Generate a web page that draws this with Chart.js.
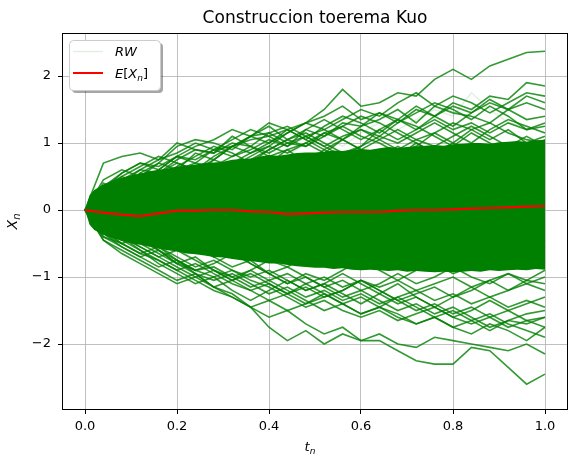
<!DOCTYPE html>
<html>
<head>
<meta charset="utf-8">
<script src="https://cdn.jsdelivr.net/npm/chart.js@4"></script>
<style>
  body { margin: 0; background: #fff; }
  #wrap { width: 568px; height: 454px; }
</style>
</head>
<body>
<div id="wrap"><canvas id="kuo-chart" width="568" height="454"></canvas></div>
<script>
// time grid (t_n) shared by every walk
const T = [0, 0.04, 0.08, 0.12, 0.16, 0.20, 0.24, 0.28, 0.32, 0.36, 0.40, 0.44, 0.48,
           0.52, 0.56, 0.60, 0.64, 0.68, 0.72, 0.76, 0.80, 0.84, 0.88, 0.92, 0.96, 1.0];

// mean of the walks, E[X_n]
const meanX = [0, -0.04, -0.07, -0.09, -0.05, -0.01, -0.01, 0.0, 0.0, -0.02, -0.03, -0.06, -0.05,
               -0.04, -0.03, -0.03, -0.03, -0.01, 0.0, 0.0, 0.01, 0.02, 0.03, 0.04, 0.05, 0.06];

// edges of the dense (solid green) core of the bundle, on a finer grid
const coreT = [0, 0.01, 0.02, 0.04, 0.06, 0.08, 0.10, 0.12, 0.14, 0.16, 0.18, 0.20, 0.22, 0.24, 0.26,
               0.28, 0.30, 0.32, 0.34, 0.36, 0.38, 0.40, 0.42, 0.44, 0.46, 0.48, 0.50, 0.52, 0.54,
               0.56, 0.58, 0.60, 0.62, 0.64, 0.66, 0.68, 0.70, 0.72, 0.74, 0.76, 0.78, 0.80, 0.82,
               0.84, 0.86, 0.88, 0.90, 0.92, 0.94, 0.96, 0.98, 1.0];
const coreUpper = [0, 0.22, 0.3, 0.38, 0.44, 0.48, 0.52, 0.54, 0.58, 0.6, 0.62, 0.65, 0.66, 0.68, 0.7,
                   0.71, 0.72, 0.75, 0.76, 0.77, 0.8, 0.82, 0.81, 0.83, 0.85, 0.86, 0.86, 0.87, 0.89,
                   0.88, 0.9, 0.91, 0.9, 0.92, 0.94, 0.93, 0.94, 0.95, 0.96, 0.97, 0.96, 0.98, 0.99,
                   1.0, 1.0, 0.99, 1.01, 1.02, 1.03, 1.02, 1.04, 1.05];
const coreLower = [0, -0.22, -0.3, -0.37, -0.42, -0.46, -0.5, -0.52, -0.55, -0.58, -0.6, -0.62, -0.65, -0.66, -0.68,
                   -0.7, -0.71, -0.73, -0.75, -0.76, -0.78, -0.8, -0.8, -0.82, -0.84, -0.85, -0.86, -0.86, -0.88,
                   -0.87, -0.89, -0.9, -0.89, -0.9, -0.91, -0.9, -0.92, -0.91, -0.92, -0.93, -0.92, -0.93, -0.92,
                   -0.91, -0.92, -0.9, -0.91, -0.9, -0.89, -0.9, -0.88, -0.89];

// individual walks (RW)
const rwPale = [0, 0.1, 0.25, 0.15, 0.35, 0.5, 0.4, 0.6, 0.55, 0.75, 0.9, 0.8, 1.0, 1.1, 0.95, 1.15, 1.3, 1.2, 1.35, 1.5, 1.4, 1.75, 1.5, 1.3, 1.25, 1.15];
const rwA = [0, 0.35, 0.55, 0.7, 0.65, 0.8, 0.75, 0.9, 0.95, 1.05, 1.1, 1.2, 1.3, 1.5, 1.8, 1.55, 1.6, 1.75, 1.7, 1.95, 2.1, 1.95, 2.15, 2.25, 2.35, 2.37];
const rwB = [0, 0.2, 0.3, 0.5, 0.45, 0.6, 0.7, 0.65, 0.8, 0.9, 1.05, 0.95, 1.2, 1.1, 1.3, 1.25, 1.45, 1.35, 1.55, 1.4, 1.6, 1.5, 1.7, 1.65, 1.9, 1.85];
const rwC = [0, -0.1, 0.15, 0.3, 0.2, 0.45, 0.55, 0.5, 0.7, 0.85, 0.95, 1.15, 1.3, 1.4, 1.55, 1.35, 1.45, 1.3, 1.5, 1.4, 1.25, 1.45, 1.6, 1.5, 1.7, 1.6];
const rwD = [0, 0.7, 0.8, 0.85, 0.75, 1.0, 0.9, 0.85, 1.1, 0.95, 0.8, 0.9, 0.7, 0.85, 0.6, 0.75, 0.9, 0.8, 1.0, 0.85, 0.7, 0.95, 0.8, 1.0, 0.9, 1.05];
const rwE = [0, 0.25, 0.4, 0.6, 0.55, 0.75, 0.9, 0.85, 1.0, 0.95, 1.15, 1.25, 1.1, 1.2, 1.05, 1.25, 1.35, 1.5, 1.3, 1.55, 1.45, 1.4, 1.3, 1.5, 1.35, 1.4];
const rwF = [0, 0.15, 0.05, 0.25, 0.4, 0.3, 0.5, 0.65, 0.55, 0.75, 0.7, 0.9, 1.0, 0.85, 1.05, 1.2, 1.1, 1.3, 1.45, 1.6, 1.5, 1.35, 1.55, 1.4, 1.2, 1.25];
const rwG = [0, 0.45, 0.6, 0.5, 0.7, 0.95, 1.05, 1.0, 0.9, 1.1, 1.15, 1.0, 0.95, 1.15, 1.25, 1.1, 1.0, 0.85, 0.95, 1.15, 1.3, 1.2, 1.05, 1.2, 1.0, 1.1];
const rwH = [0, 0.3, 0.2, 0.45, 0.35, 0.55, 0.5, 0.75, 0.95, 1.1, 1.25, 1.05, 1.15, 1.0, 0.85, 0.95, 1.2, 1.35, 1.25, 1.1, 0.95, 1.15, 1.0, 0.85, 0.95, 0.85];
const rwI = [0, 0.1, 0.3, 0.2, 0.4, 0.5, 0.35, 0.55, 0.6, 0.45, 0.65, 0.8, 0.7, 0.9, 0.75, 0.6, 0.8, 0.7, 0.85, 0.65, 0.75, 0.55, 0.7, 0.5, 0.65, 0.6];
const rwJ = [0, -0.15, 0.05, 0.2, 0.1, 0.3, 0.45, 0.35, 0.2, 0.4, 0.55, 0.45, 0.6, 0.5, 0.35, 0.45, 0.3, 0.5, 0.65, 0.5, 0.4, 0.55, 0.45, 0.3, 0.5, 0.4];
const rwK = [0, 0.2, 0.35, 0.25, 0.15, 0.3, 0.2, 0.05, 0.15, 0.3, 0.2, 0.35, 0.25, 0.1, 0.25, 0.4, 0.3, 0.15, 0.3, 0.2, 0.05, 0.2, 0.35, 0.2, 0.1, 0.2];
const rwL = [0, -0.2, -0.1, 0.05, -0.1, -0.25, -0.15, 0.0, 0.15, 0.05, -0.1, 0.05, 0.2, 0.1, -0.05, 0.1, 0.25, 0.1, -0.05, 0.1, 0.0, -0.15, 0.05, -0.1, 0.1, 0.0];
const rwM = [0, 0.1, -0.05, -0.2, -0.1, -0.3, -0.45, -0.3, -0.4, -0.25, -0.1, -0.25, -0.4, -0.3, -0.45, -0.3, -0.15, -0.3, -0.45, -0.3, -0.2, -0.35, -0.25, -0.4, -0.3, -0.25];
const rwN = [0, -0.3, -0.45, -0.35, -0.5, -0.4, -0.55, -0.7, -0.6, -0.75, -0.6, -0.5, -0.65, -0.55, -0.4, -0.55, -0.7, -0.6, -0.45, -0.6, -0.7, -0.55, -0.4, -0.55, -0.5, -0.45];
const rwO = [0, -0.1, -0.3, -0.2, -0.45, -0.6, -0.5, -0.7, -0.85, -0.75, -0.95, -1.1, -0.95, -1.05, -0.9, -0.75, -0.9, -1.05, -0.9, -0.8, -0.95, -0.85, -0.7, -0.85, -0.75, -0.7];
const rwP = [0, -0.35, -0.5, -0.65, -0.55, -0.75, -0.9, -0.8, -0.65, -0.8, -0.95, -0.85, -1.0, -1.15, -1.05, -1.2, -1.1, -0.95, -1.1, -1.0, -0.85, -1.0, -1.1, -0.95, -1.05, -0.9];
const rwQ = [0, -0.25, -0.4, -0.6, -0.8, -0.95, -1.1, -1.0, -1.2, -1.35, -1.2, -1.05, -1.2, -1.1, -1.25, -1.4, -1.25, -1.1, -1.3, -1.45, -1.3, -1.15, -1.3, -1.2, -1.05, -1.1];
const rwR = [0, -0.15, -0.35, -0.45, -0.6, -0.8, -0.7, -0.9, -1.05, -0.95, -1.1, -1.25, -1.15, -1.3, -1.2, -1.05, -1.2, -1.35, -1.5, -1.4, -1.55, -1.45, -1.6, -1.5, -1.4, -1.3];
const rwS = [0, -0.4, -0.55, -0.7, -0.85, -0.75, -0.95, -1.15, -1.3, -1.45, -1.35, -1.5, -1.4, -1.25, -1.4, -1.55, -1.45, -1.3, -1.45, -1.6, -1.75, -1.65, -1.8, -1.65, -1.55, -1.5];
const rwT = [0, -0.3, -0.5, -0.4, -0.6, -0.75, -0.9, -0.85, -1.0, -1.15, -1.05, -1.2, -1.35, -1.5, -1.4, -1.55, -1.45, -1.6, -1.7, -1.6, -1.75, -1.85, -1.7, -1.8, -1.95, -1.75];
const rwU = [0, -0.25, -0.45, -0.6, -0.75, -0.9, -1.05, -1.2, -1.3, -1.45, -1.6, -1.5, -1.7, -1.85, -1.75, -1.95, -1.85, -2.0, -2.05, -1.9, -1.95, -2.0, -2.05, -2.1, -2.0, -2.15];
const rwV = [0, -0.2, -0.4, -0.55, -0.7, -0.85, -1.0, -1.15, -1.25, -1.45, -1.75, -1.95, -1.8, -2.0, -1.85, -1.95, -1.95, -2.1, -2.25, -2.3, -2.3, -2.05, -2.1, -2.35, -2.6, -2.45];
const rwW = [0, 0.05, 0.2, 0.35, 0.5, 0.4, 0.6, 0.75, 0.65, 0.8, 0.95, 0.85, 1.0, 1.15, 1.05, 0.9, 1.05, 1.2, 1.05, 1.15, 1.0, 1.2, 1.3, 1.15, 1.05, 1.0];
const rwX = [0, -0.45, -0.6, -0.75, -0.9, -1.05, -0.95, -1.15, -1.05, -0.9, -0.75, -0.85, -0.7, -0.55, -0.7, -0.8, -0.65, -0.5, -0.65, -0.75, -0.6, -0.45, -0.55, -0.7, -0.6, -0.55];
const rwY = [0, 0.3, 0.45, 0.35, 0.55, 0.7, 0.6, 0.45, 0.6, 0.75, 0.9, 1.05, 0.95, 1.1, 1.25, 1.4, 1.3, 1.15, 1.0, 0.85, 1.0, 0.9, 0.75, 0.9, 0.8, 0.7];
const rwZ = [0, -0.2, -0.1, -0.3, -0.45, -0.35, -0.55, -0.7, -0.6, -0.8, -0.95, -1.1, -1.0, -1.15, -1.3, -1.2, -1.35, -1.5, -1.4, -1.55, -1.45, -1.6, -1.75, -1.65, -1.7, -1.6];
const rwA2 = [0, 0.4, 0.3, 0.55, 0.7, 0.6, 0.85, 0.75, 0.95, 1.1, 1.0, 1.2, 1.05, 1.25, 1.4, 1.3, 1.15, 1.35, 1.2, 1.4, 1.55, 1.45, 1.65, 1.5, 1.6, 1.5];
const rwB2 = [0, 0.25, 0.5, 0.65, 0.8, 0.7, 0.6, 0.8, 0.95, 0.85, 1.0, 1.15, 1.3, 1.2, 1.35, 1.5, 1.4, 1.6, 1.75, 1.55, 1.7, 1.6, 1.45, 1.6, 1.75, 1.7];
const rwC2 = [0, 0.15, 0.35, 0.55, 0.45, 0.65, 0.8, 0.95, 0.85, 0.7, 0.9, 1.05, 1.2, 1.35, 1.2, 1.05, 1.2, 1.05, 1.2, 1.35, 1.2, 1.3, 1.15, 1.3, 1.2, 1.3];
const rwD2 = [0, 0.35, 0.5, 0.4, 0.6, 0.8, 0.7, 0.9, 1.05, 1.2, 1.1, 0.95, 1.1, 0.95, 0.8, 0.95, 1.1, 1.0, 1.15, 1.3, 1.15, 1.0, 1.2, 1.35, 1.25, 1.15];
const rwE2 = [0, 0.2, 0.45, 0.6, 0.75, 0.85, 1.0, 0.9, 0.8, 0.95, 0.85, 1.0, 1.1, 0.95, 1.1, 1.2, 1.05, 0.9, 1.05, 0.95, 1.1, 1.25, 1.1, 0.95, 1.1, 0.95];
const rwF2 = [0, 0.3, 0.55, 0.7, 0.6, 0.8, 0.95, 1.05, 1.2, 1.1, 1.3, 1.2, 1.05, 0.9, 1.05, 0.9, 0.8, 0.95, 0.8, 0.9, 0.75, 0.85, 0.7, 0.8, 0.7, 0.75];
const rwG2 = [0, -0.35, -0.55, -0.7, -0.6, -0.8, -0.95, -1.05, -0.95, -1.1, -1.25, -1.15, -1.3, -1.2, -1.35, -1.25, -1.4, -1.3, -1.2, -1.35, -1.25, -1.4, -1.3, -1.45, -1.35, -1.45];
const rwH2 = [0, -0.25, -0.45, -0.35, -0.55, -0.7, -0.85, -0.75, -0.9, -1.05, -1.15, -1.3, -1.45, -1.35, -1.5, -1.6, -1.5, -1.65, -1.55, -1.45, -1.6, -1.5, -1.35, -1.5, -1.65, -1.6];
const rwI2 = [0, -0.4, -0.5, -0.65, -0.75, -0.9, -0.8, -0.95, -1.1, -1.2, -1.1, -1.25, -1.1, -1.0, -1.15, -1.05, -1.2, -1.35, -1.25, -1.15, -1.3, -1.2, -1.05, -1.2, -1.1, -1.2];
const rwJ2 = [0, -0.3, -0.4, -0.55, -0.7, -0.6, -0.75, -0.9, -1.0, -0.9, -1.05, -0.95, -1.1, -1.25, -1.4, -1.3, -1.45, -1.55, -1.7, -1.6, -1.5, -1.65, -1.55, -1.7, -1.8, -1.9];
const rwK2 = [0, -0.45, -0.65, -0.8, -0.95, -1.1, -1.0, -0.9, -1.05, -1.2, -1.35, -1.25, -1.4, -1.3, -1.2, -1.05, -1.15, -1.05, -1.2, -1.1, -1.0, -1.15, -1.05, -0.95, -1.1, -1.0];
const rwL2 = [0, -0.2, -0.4, -0.5, -0.65, -0.8, -0.9, -1.0, -0.9, -1.0, -0.9, -1.05, -1.2, -1.1, -0.95, -1.1, -1.25, -1.4, -1.3, -1.45, -1.6, -1.7, -1.6, -1.75, -1.65, -1.75];

const walks = [rwA, rwB, rwC, rwD, rwE, rwF, rwG, rwH, rwI, rwJ, rwK, rwL, rwM,
               rwN, rwO, rwP, rwQ, rwR, rwS, rwT, rwU, rwV, rwW, rwX, rwY, rwZ,
               rwA2, rwB2, rwC2, rwD2, rwE2, rwF2, rwG2, rwH2, rwI2, rwJ2, rwK2, rwL2];

const xTicks = [0, 0.2, 0.4, 0.6, 0.8, 1.0];
const yTicks = [-2, -1, 0, 1, 2];

const GREEN = 'rgba(0, 128, 0, 0.8)';
const FONT = '"DejaVu Sans", sans-serif';

function toPoints(ys, ts) {
    ts = ts || T;
    return ys.map(function (y, i) { return { x: ts[i], y: y }; });
}

function lineSet(ys, color, width, order) {
    return {
        data: toPoints(ys),
        borderColor: color,
        borderWidth: width,
        pointRadius: 0,
        tension: 0,
        fill: false,
        order: order
    };
}

// draws text pieces one after another (simple mathtext stand-in)
function drawRuns(ctx, runs, x, y, measureOnly) {
    let w = 0;
    runs.forEach(function (r) {
        ctx.font = r.font;
        if (!measureOnly) ctx.fillText(r.text, x + w, y + (r.dy || 0));
        w += ctx.measureText(r.text).width;
    });
    return w;
}

function sub(base, s, size) {
    return [
        { text: base, font: 'italic ' + size + 'px ' + FONT },
        { text: s, font: 'italic ' + Math.round(size * 0.7) + 'px ' + FONT, dy: size * 0.22 }
    ];
}

const decor = {
    id: 'decor',
    afterDraw(chart) {
        const ctx = chart.ctx;
        const a = chart.chartArea;
        ctx.save();

        // spines
        ctx.strokeStyle = '#000';
        ctx.lineWidth = 1;
        ctx.strokeRect(a.left + 0.5, a.top + 0.5, a.right - a.left - 1, a.bottom - a.top - 1);

        // title
        ctx.fillStyle = '#000';
        ctx.textBaseline = 'alphabetic';
        ctx.textAlign = 'center';
        ctx.font = '17px ' + FONT;
        ctx.fillText('Construccion toerema Kuo', (a.left + a.right) / 2, 23);

        // axis labels
        ctx.textAlign = 'left';
        const tRuns = sub('t', 'n', 13);
        const tw = drawRuns(ctx, tRuns, 0, 0, true);
        drawRuns(ctx, tRuns, (a.left + a.right) / 2 - tw / 2 - 5, 451);

        ctx.save();
        ctx.translate(17, (a.top + a.bottom) / 2);
        ctx.rotate(-Math.PI / 2);
        const xRuns = sub('X', 'n', 14);
        const xw = drawRuns(ctx, xRuns, 0, 0, true);
        drawRuns(ctx, xRuns, -xw / 2, 0);
        ctx.restore();

        // legend box with shadow
        const bx = 69, by = 40, bw = 91, bh = 50;
        ctx.fillStyle = 'rgba(0, 0, 0, 0.35)';
        ctx.beginPath();
        ctx.roundRect(bx + 3, by + 3, bw, bh, 4);
        ctx.fill();
        ctx.fillStyle = '#fff';
        ctx.strokeStyle = '#cccccc';
        ctx.beginPath();
        ctx.roundRect(bx + 0.5, by + 0.5, bw, bh, 4);
        ctx.fill();
        ctx.stroke();

        ctx.lineWidth = 1.5;
        ctx.strokeStyle = 'rgba(0, 128, 0, 0.12)';
        ctx.beginPath();
        ctx.moveTo(73, 51.5);
        ctx.lineTo(103, 51.5);
        ctx.stroke();
        ctx.lineWidth = 2;
        ctx.strokeStyle = 'rgb(255, 0, 0)';
        ctx.beginPath();
        ctx.moveTo(73, 73);
        ctx.lineTo(103, 73);
        ctx.stroke();

        ctx.fillStyle = '#000';
        ctx.textBaseline = 'alphabetic';
        ctx.font = 'italic 13px ' + FONT;
        ctx.fillText('RW', 115, 56);
        drawRuns(ctx, [
            { text: 'E', font: 'italic 13px ' + FONT },
            { text: '[', font: '13px ' + FONT },
            { text: 'X', font: 'italic 13px ' + FONT },
            { text: 'n', font: 'italic 9px ' + FONT, dy: 3 },
            { text: ']', font: '13px ' + FONT }
        ], 115, 78);

        ctx.restore();
    }
};

const datasets = [];
// red mean on top
datasets.push(lineSet(meanX, 'rgb(255, 0, 0)', 2.2, 0));
datasets.push(lineSet(rwPale, 'rgba(0, 128, 0, 0.12)', 1.5, 1));
walks.forEach(function (w) {
    datasets.push(lineSet(w, GREEN, 1.6, 1));
});
// dense core: upper filled down to lower
datasets.push({
    data: toPoints(coreUpper, coreT),
    borderWidth: 0,
    borderColor: 'rgba(0, 0, 0, 0)',
    backgroundColor: 'rgb(0, 128, 0)',
    pointRadius: 0,
    tension: 0,
    fill: '+1',
    order: 2
});
datasets.push({
    data: toPoints(coreLower, coreT),
    borderWidth: 0,
    borderColor: 'rgba(0, 0, 0, 0)',
    pointRadius: 0,
    tension: 0,
    fill: false,
    order: 2
});

new Chart(document.getElementById('kuo-chart'), {
    type: 'line',
    data: { datasets: datasets },
    options: {
        responsive: false,
        animation: false,
        layout: { padding: { left: 0, top: 33, right: 0, bottom: 0 } },
        plugins: {
            legend: { display: false },
            tooltip: { enabled: false },
            title: { display: false }
        },
        scales: {
            x: {
                type: 'linear',
                min: -0.05,
                max: 1.05,
                afterFit: function (s) { s.height = 44; },
                afterBuildTicks: function (s) {
                    s.ticks = xTicks.map(function (v) { return { value: v }; });
                },
                grid: { color: '#b0b0b0', lineWidth: 0.8, tickLength: 4, tickColor: '#000', tickWidth: 1 },
                border: { display: false },
                ticks: {
                    color: '#000',
                    padding: 5,
                    maxRotation: 0,
                    font: { family: FONT, size: 13 },
                    callback: function (v) { return v.toFixed(1); }
                }
            },
            y: {
                min: -2.985,
                max: 2.642,
                afterFit: function (s) { s.width = 62; },
                afterBuildTicks: function (s) {
                    s.ticks = yTicks.map(function (v) { return { value: v }; });
                },
                grid: { color: '#b0b0b0', lineWidth: 0.8, tickLength: 4, tickColor: '#000', tickWidth: 1 },
                border: { display: false },
                ticks: {
                    color: '#000',
                    padding: 7,
                    font: { family: FONT, size: 13 },
                    callback: function (v) { return v < 0 ? '\u2212' + Math.abs(v) : String(v); }
                }
            }
        }
    },
    plugins: [decor]
});
</script>
</body>
</html>
